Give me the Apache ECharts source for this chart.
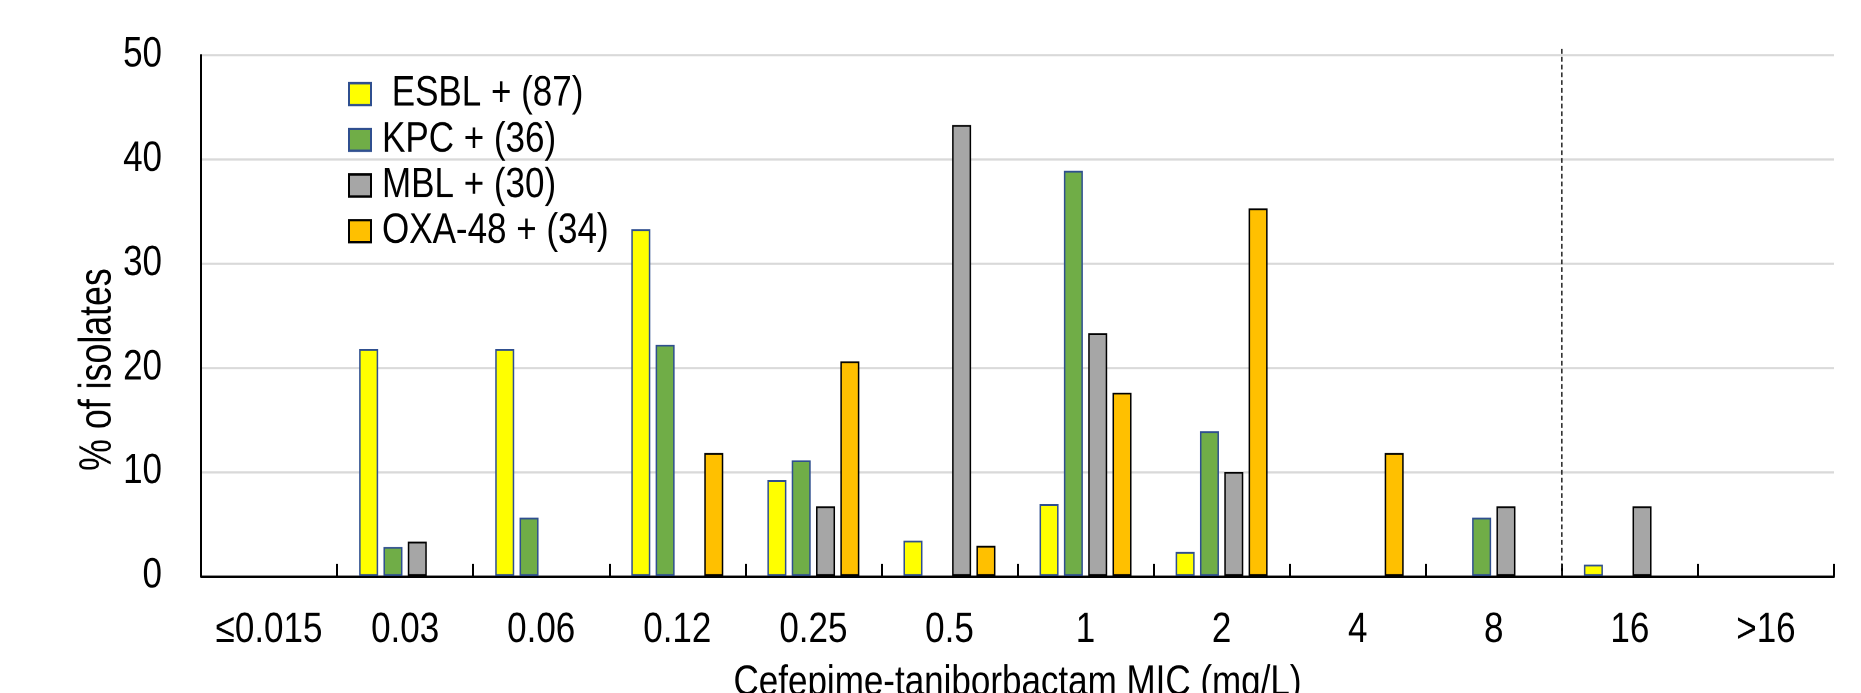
<!DOCTYPE html>
<html>
<head>
<meta charset="utf-8">
<title>Cefepime-taniborbactam MIC</title>
<script src="https://cdn.jsdelivr.net/npm/echarts@6/dist/echarts.min.js"></script>
<style>
    html, body { margin: 0; padding: 0; background: #fff; }
    #wrap { width: 1861px; height: 693px; position: relative; }
    /* the original figure uses a narrow font; stretch the chart vertically so Liberation Sans looks like Arial Narrow */
    #chart { position: absolute; left: 0; top: 0; width: 1861px; height: 578px; transform: scaleY(1.19896); transform-origin: 0 0; }
</style>
</head>
<body>
<div id="wrap"><div id="chart"></div></div>
<script>
// MIC categories and % of isolates per group
let categories = ['≤0.015', '0.03', '0.06', '0.12', '0.25', '0.5', '1', '2', '4', '8', '16', '>16'];
let esbl = [0, 21.8, 21.8, 33.3, 9.2, 3.4, 6.9, 2.3, 0, 0, 1.1, 0];
let kpc = [0, 2.8, 5.6, 22.2, 11.1, 0, 38.9, 13.9, 0, 5.6, 0, 0];
let mbl = [0, 3.3, 0, 0, 6.7, 43.3, 23.3, 10.0, 0, 6.7, 6.7, 0];
let oxa = [0, 0, 0, 11.8, 20.6, 2.9, 17.6, 35.3, 11.8, 0, 0, 0];
let seriesNames = [' ESBL + (87)', 'KPC + (36)', 'MBL + (30)', 'OXA-48 + (34)'];
let yTicks = [0, 10, 20, 30, 40, 50];
// breakpoint line sits between these two categories
let breakLeft = '8', breakRight = '16';

let font = "'Liberation Sans', Arial, sans-serif";
let chart = echarts.init(document.getElementById('chart'), null, { devicePixelRatio: 2 });

function barSeries(name, data, color, border){
    return {
        name: name,
        type: 'bar',
        // empty cells instead of zero-height bars
        data: data.map(v => v === 0 ? '-' : v),
        barWidth: 19,
        barGap: '28%',
        itemStyle: {
            color: color,
            borderColor: border,
            borderWidth: 1.5
        }
    }
}

let option = {
    backgroundColor: '#fff',
    animation: false,
    textStyle: { fontFamily: font },
    grid: {
        left: 201,
        right: 27,
        top: 46,
        bottom: 97.6,
        containLabel: false,
        outerBoundsMode: 'none'
    },
    legend: {
        data: seriesNames,
        orient: 'vertical',
        left: 343,
        top: 56,
        itemWidth: 22,
        itemHeight: 18.3,
        itemGap: 3.1,
        icon: 'rect',
        textStyle: {
            fontFamily: font,
            fontSize: 35,
            lineHeight: 35,
            color: '#000',
            padding: [0, 0, 0, 6]
        }
    },
    xAxis: {
        type: 'category',
        data: categories,
        name: 'Cefepime-taniborbactam MIC (mg/L)',
        nameLocation: 'middle',
        nameGap: 72,
        nameTextStyle: { fontFamily: font, fontSize: 35, color: '#000' },
        axisLine: { lineStyle: { color: '#000', width: 2 } },
        axisTick: { show: true, inside: true, length: 10, lineStyle: { color: '#000', width: 2 } },
        axisLabel: { show: true, fontFamily: font, fontSize: 35, color: '#000', margin: 28, interval: 0, hideOverlap: false },
        splitLine: { show: false }
    },
    yAxis: {
        type: 'value',
        min: yTicks[0],
        max: yTicks[yTicks.length - 1],
        interval: yTicks[1] - yTicks[0],
        axisLine: { show: true, lineStyle: { color: '#000', width: 2 } },
        axisTick: { show: false },
        axisLabel: { fontFamily: font, fontSize: 35, color: '#000', margin: 39 },
        splitLine: { show: true, lineStyle: { color: '#d9d9d9', width: 1.8 } }
    },
    series: [
        barSeries(seriesNames[0], esbl, '#ffff00', '#2f4f8f'),
        barSeries(seriesNames[1], kpc, '#70ad47', '#2f4f8f'),
        barSeries(seriesNames[2], mbl, '#a6a6a6', '#000'),
        barSeries(seriesNames[3], oxa, '#ffc000', '#000')
    ]
}
chart.setOption(option)

// y axis title and the dashed breakpoint line, placed from the chart's own scales
function drawExtras(){
    let xa = chart.convertToPixel({ xAxisIndex: 0 }, breakLeft);
    let xb = chart.convertToPixel({ xAxisIndex: 0 }, breakRight);
    let y0 = chart.convertToPixel({ yAxisIndex: 0 }, yTicks[0]);
    let yTop = chart.convertToPixel({ yAxisIndex: 0 }, yTicks[yTicks.length - 1]);
    let xBreak = (xa + xb) / 2;
    chart.setOption({
        graphic: [
            {
                id: 'ytitle',
                type: 'text',
                x: 98,
                y: (y0 + yTop) / 2 + 45,
                rotation: Math.PI / 2,
                scaleX: 0.71,
                scaleY: 1.08,
                style: {
                    text: '% of isolates',
                    font: '42px ' + font,
                    fill: '#000',
                    align: 'center',
                    verticalAlign: 'middle'
                }
            },
            {
                id: 'breakpoint',
                type: 'line',
                shape: { x1: xBreak, y1: y0, x2: xBreak, y2: yTop - 7.5 },
                style: { stroke: '#222', lineWidth: 1.5, lineDash: [4, 2.5] },
                z: 10
            }
        ]
    })
}
drawExtras()
window.addEventListener('resize', function(){
    chart.resize()
    drawExtras()
})
</script>
</body>
</html>
